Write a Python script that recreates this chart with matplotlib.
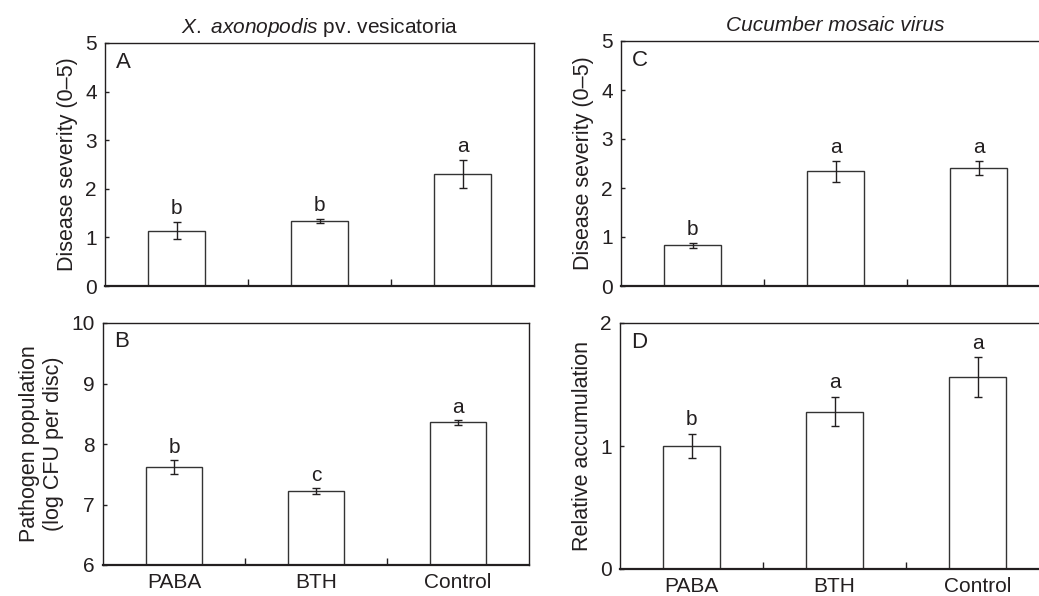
import numpy as np
from matplotlib import pyplot as plt

plt.rcParams['font.family'] = ['Liberation Sans', 'DejaVu Sans']
plt.rcParams['font.size'] = 15
plt.rcParams['mathtext.fontset'] = 'custom'
plt.rcParams['mathtext.rm'] = 'Liberation Sans'
plt.rcParams['mathtext.it'] = 'Liberation Sans:italic'

# Dados
tratamentos = ["PABA", "BTH", "Control"]

sev_xav = [1.14, 1.34, 2.30]
sev_xav_err = [0.18, 0.04, 0.29]
sev_xav_let = ["b", "b", "a"]

pop_xav = [7.62, 7.23, 8.36]
pop_xav_err = [0.11, 0.05, 0.04]
pop_xav_let = ["b", "c", "a"]

sev_cmv = [0.83, 2.34, 2.41]
sev_cmv_err = [0.05, 0.22, 0.15]
sev_cmv_let = ["b", "a", "a"]

acc_cmv = [1.00, 1.28, 1.56]
acc_cmv_err = [0.10, 0.12, 0.16]
acc_cmv_let = ["b", "a", "a"]

COR = "#231f20"
W, H = 1039, 596


def caixa(l, r, t, b):
    # converte pixels para fracao da figura
    return [l / W, (H - b) / H, (r - l) / W, (b - t) / H]


def painel(ax, vals, errs, letras, ylim, yticks, ylabel, letra_painel, rotulos_x, offset):
    x = np.arange(len(vals)) + 0.5
    ax.bar(x, vals, width=0.4, bottom=0, color="white", edgecolor="#333333", linewidth=1.0, zorder=2)
    ax.errorbar(x, vals, yerr=errs, fmt="none", ecolor=COR, elinewidth=1.0, capsize=3, capthick=1.0, zorder=3)
    for xi, v, e, l in zip(x, vals, errs, letras):
        ax.text(xi, v + e + offset, l, ha="center", va="bottom", fontsize=15, color=COR)
    ax.set_xlim(0, 3)
    ax.set_ylim(*ylim)
    ax.set_yticks(yticks)
    ax.set_ylabel(ylabel, color=COR, fontsize=15.5, labelpad=5)
    ax.set_xticks([1, 2])
    ax.set_xticklabels([])
    ax.tick_params(axis="x", which="major", direction="in", length=5, width=1, color=COR)
    ax.tick_params(axis="y", direction="in", length=3, width=1, color=COR, labelcolor=COR, pad=6)
    if rotulos_x:
        ax.set_xticks(x, tratamentos, minor=True)
        ax.tick_params(axis="x", which="minor", length=0, pad=6, labelcolor=COR, labelsize=15)
    for s in ax.spines.values():
        s.set_color(COR)
        s.set_linewidth(1.0)
    ax.spines["bottom"].set_linewidth(1.6)
    ax.text(0.025, 0.965, letra_painel, transform=ax.transAxes, ha="left", va="top", fontsize=16, color=COR)


fig = plt.figure(figsize=(W / 100, H / 100), dpi=100)

axA = fig.add_axes(caixa(105, 534, 43, 286))
painel(axA, sev_xav, sev_xav_err, sev_xav_let, (0, 5), range(6), "Disease severity (0\u20135)", "A", False, 0.08)
axA.set_title(r"$\mathit{X.\ axonopodis}$ pv. vesicatoria", fontsize=15, color=COR, pad=7)

axB = fig.add_axes(caixa(103, 529, 323, 565))
painel(axB, pop_xav, pop_xav_err, pop_xav_let, (6, 10), range(6, 11), "Pathogen population\n(log CFU per disc)", "B", True, 0.05)

axC = fig.add_axes(caixa(621, 1050, 41, 286))
painel(axC, sev_cmv, sev_cmv_err, sev_cmv_let, (0, 5), range(6), "Disease severity (0\u20135)", "C", False, 0.08)
axC.set_title("Cucumber mosaic virus", fontsize=15, color=COR, style="italic", pad=7)

axD = fig.add_axes(caixa(620, 1049, 323, 569))
painel(axD, acc_cmv, acc_cmv_err, acc_cmv_let, (0, 2), [0, 1, 2], "Relative accumulation", "D", True, 0.04)

plt.savefig("out.png", dpi=100)
